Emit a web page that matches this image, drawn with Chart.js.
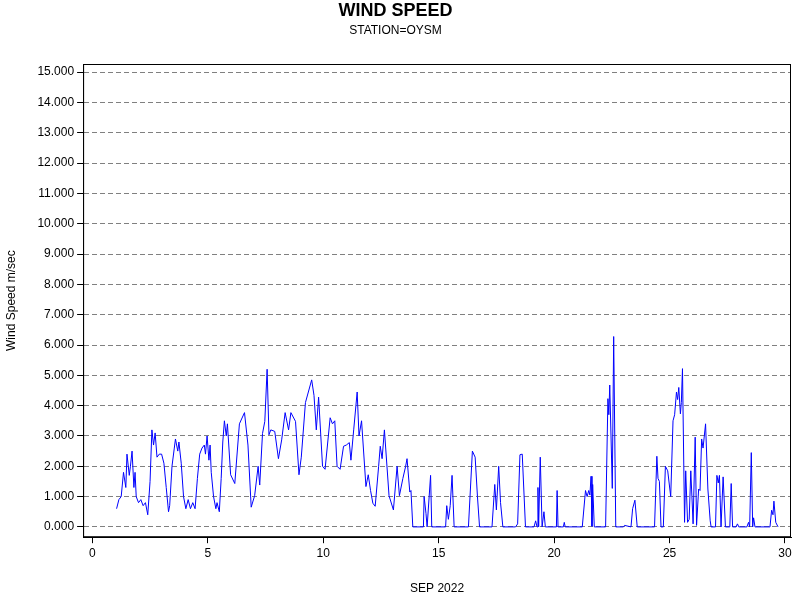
<!DOCTYPE html>
<html><head><meta charset="utf-8">
<script src="https://cdn.jsdelivr.net/npm/chart.js@4"></script>
<style>body{margin:0;background:#fff}</style>
</head><body><canvas id="c" width="800" height="600"></canvas>
<script>
const days = [1.05,1.15,1.25,1.35,1.45,1.5,1.6,1.65,1.72,1.8,1.85,1.9,2.0,2.1,2.2,2.3,2.4,2.5,2.58,2.65,2.72,2.8,2.9,3.0,3.1,3.2,3.3,3.35,3.45,3.55,3.6,3.7,3.75,3.85,3.95,4.05,4.15,4.25,4.35,4.45,4.55,4.65,4.75,4.85,4.9,4.97,5.05,5.1,5.15,5.25,5.35,5.4,5.5,5.58,5.65,5.72,5.8,5.85,
5.99,6.17,6.37,6.59,6.74,6.88,7.03,7.18,7.25,7.37,7.47,7.57,7.65,7.73,7.9,8.06,8.2,8.35,8.5,8.6,8.8,8.95,9.05,9.23,9.5,9.6,9.7,9.8,9.97,10.08,10.3,10.4,10.5,10.6,10.73,10.88,
11.0,11.13,11.2,11.32,11.47,11.55,11.66,11.85,11.95,12.05,12.15,12.25,12.4,12.47,12.55,12.65,12.85,13.04,13.2,13.3,13.45,13.57,13.63,13.75,13.8,13.88,14.34,14.37,14.45,14.5,14.65,14.7,15.3,15.35,15.42,15.5,15.58,15.67,
16.29,16.46,16.58,16.68,16.77,17.31,17.43,17.5,17.6,17.68,17.78,18.33,18.42,18.52,18.62,18.76,19.13,19.2,19.26,19.3,19.33,19.4,19.48,19.56,19.62,20.1,20.13,20.17,20.4,20.44,20.48,
21.22,21.36,21.43,21.5,21.55,21.6,21.64,21.67,21.74,22.23,22.33,22.37,22.41,22.52,22.58,22.67,23.0,23.05,23.33,23.4,23.5,23.6,24.35,24.45,24.5,24.56,24.63,24.73,24.82,24.92,25.05,25.15,25.22,25.3,25.35,25.4,25.47,25.51,25.56,25.65,25.7,25.78,25.85,
25.92,26.02,26.11,26.17,26.26,26.32,26.39,26.45,26.56,26.66,26.76,26.8,26.99,27.05,27.11,27.16,27.23,27.32,27.42,27.61,27.67,27.73,27.88,27.94,28.0,28.35,28.42,28.47,28.54,28.6,28.64,28.7,29.35,29.42,29.48,29.52,29.6,29.7];
const speeds = [0.6,0.9,1.0,1.8,1.3,2.4,1.7,2.0,2.5,1.3,1.8,1.0,0.8,0.9,0.7,0.8,0.4,1.5,3.2,2.7,3.1,2.3,2.4,2.4,2.1,1.3,0.5,0.7,2.0,2.6,2.9,2.5,2.8,2.1,1.0,0.6,0.9,0.6,0.8,0.6,1.6,2.4,2.6,2.7,2.4,3.0,2.2,2.7,1.8,1.0,0.6,0.8,0.5,1.6,2.8,3.5,3.0,3.4,
1.72,1.43,3.4,3.77,2.7,0.65,1.03,2.0,1.38,3.08,3.48,5.2,3.04,3.2,3.15,2.25,2.87,3.77,3.2,3.77,3.48,1.72,2.3,4.1,4.85,4.34,3.2,4.28,2.0,1.9,3.6,3.4,3.5,2.0,1.9,2.66,
2.7,2.78,2.2,3.2,4.45,3.0,3.5,1.33,1.72,1.2,0.78,0.68,2.0,2.66,2.25,3.2,1.03,0.56,2.0,1.03,1.6,2.0,2.25,1.15,1.2,0,0,1.0,0.45,0,1.7,0,0,0.7,0.25,0.7,1.7,0,
0,2.5,2.3,1.0,0,0,1.4,0.56,2.0,0.8,0,0,0.1,2.38,2.4,0,0,0.2,0,1.3,0,2.3,0,0.5,0,0,1.2,0,0,0.15,0,
0,1.2,1.0,1.2,1.05,1.67,0.02,1.4,0,0,4.23,3.7,4.68,1.27,6.28,0,0,0.05,0,0.6,0.88,0,0,2.33,1.6,1.5,0,0,2.0,1.85,1.0,3.5,3.7,4.45,4.2,4.6,3.73,4.1,5.22,0.15,1.85,0.15,0.25,
1.85,0.1,2.96,0.05,1.25,1.2,2.9,2.6,3.4,1.25,0.2,0,0,1.7,1.45,1.7,0,1.65,0,0,1.43,0,0,0.1,0,0,0.15,0,2.45,0,0.3,0,0,0.55,0.4,0.85,0.15,0];
const yTicks = [0,1,2,3,4,5,6,7,8,9,10,11,12,13,14,15];
const xTicks = [0,5,10,15,20,25,30];

const pts = days.map((d,i)=>({x:d,y:speeds[i]}));
const boxPlugin = {id:'box',afterDraw(ch){const a=ch.chartArea,c=ch.ctx;c.save();c.strokeStyle='#000';c.lineWidth=1;c.strokeRect(a.left+0.5,a.top+0.5,a.width-1,a.height-1);c.restore();}};
new Chart(document.getElementById('c'),{
 type:'line',
 data:{datasets:[{data:pts,borderColor:'#0000ff',borderWidth:1,pointRadius:0,tension:0}]},
 plugins:[boxPlugin],
 options:{responsive:false,animation:false,devicePixelRatio:1,
  layout:{padding:{top:0,right:9,bottom:0,left:0}},
  plugins:{legend:{display:false},
   title:{display:true,text:'WIND SPEED',color:'#000',font:{family:'Liberation Sans',size:18,weight:'bold'},padding:{top:0,bottom:2}},
   subtitle:{display:true,text:'STATION=OYSM',color:'#000',font:{family:'Liberation Sans',size:12},padding:{bottom:26}}},
  scales:{
   x:{type:'linear',min:-0.4,max:30.26,afterBuildTicks:s=>{s.ticks=xTicks.map(v=>({value:v}));},
    grid:{color:'transparent',tickColor:'#000',tickLength:6},border:{color:'#000'},
    ticks:{color:'#000',font:{family:'Liberation Sans',size:12},maxRotation:0},
    title:{display:true,text:'SEP 2022',color:'#000',font:{family:'Liberation Sans',size:12},padding:{top:18}}},
   y:{min:-0.34,max:15.27,afterBuildTicks:s=>{s.ticks=yTicks.map(v=>({value:v}));},
    grid:{color:'#808080',tickColor:'#000',tickLength:6},border:{color:'#000',dash:[5,3]},
    ticks:{color:'#000',font:{family:'Liberation Sans',size:12},callback:v=>v.toFixed(3)},
    title:{display:true,text:'Wind Speed m/sec',color:'#000',font:{family:'Liberation Sans',size:12},padding:{bottom:16}}}
  }}
});
</script></body></html>
